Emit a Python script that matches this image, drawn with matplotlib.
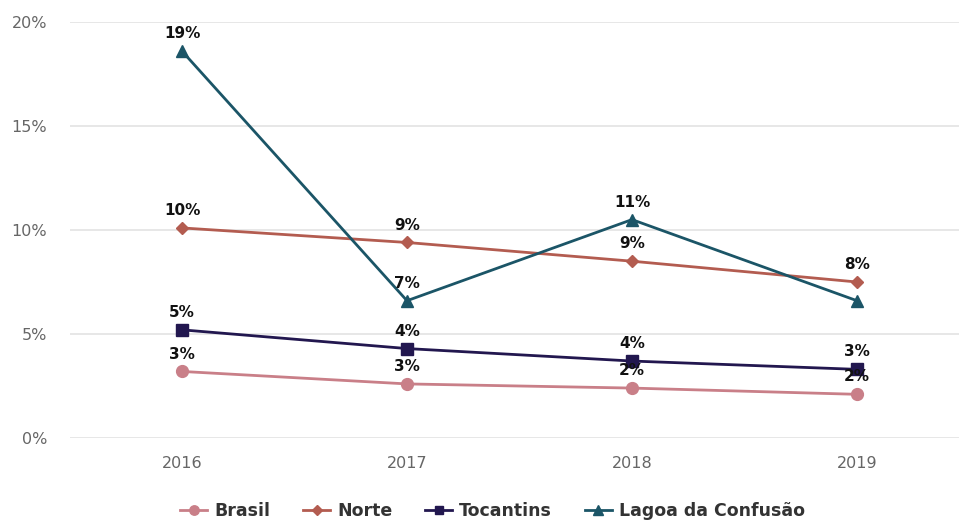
import matplotlib
matplotlib.use("Agg")
import matplotlib.pyplot as plt
from matplotlib.ticker import FuncFormatter

years = ["2016", "2017", "2018", "2019"]
brasil = [3.2, 2.6, 2.4, 2.1]
norte = [10.1, 9.4, 8.5, 7.5]
tocantins = [5.2, 4.3, 3.7, 3.3]
lagoa = [18.6, 6.6, 10.5, 6.6]
brasil_lbl = ["3%", "3%", "2%", "2%"]
norte_lbl = ["10%", "9%", "9%", "8%"]
tocantins_lbl = ["5%", "4%", "4%", "3%"]
lagoa_lbl = ["19%", "7%", "11%", None]
yticks = [0, 5, 10, 15, 20]

series = [
    ("Brasil", brasil, brasil_lbl, "#c97f88", "o", 8.5),
    ("Norte", norte, norte_lbl, "#b35c50", "D", 6),
    ("Tocantins", tocantins, tocantins_lbl, "#22174f", "s", 8),
    ("Lagoa da Confusão", lagoa, lagoa_lbl, "#1b5567", "^", 8.5),
]

fig = plt.figure(figsize=(9.59, 5.21), dpi=100)
ax = fig.add_axes([69.5 / 959, 83 / 521, 900 / 959, 416 / 521])
x = list(range(len(years)))
for name, vals, lbls, col, mk, ms in series:
    ax.plot(x, vals, color=col, marker=mk, markersize=ms, linewidth=2, label=name, zorder=3)
for name, vals, lbls, col, mk, ms in series:
    for xi, v, l in zip(x, vals, lbls):
        if l is None:
            continue
        ax.annotate(l, (xi, v), xytext=(0, 12.5), textcoords="offset points",
                    ha="center", va="center", fontsize=11, fontweight="bold",
                    color="#111111", zorder=5)

ax.set_xlim(-0.5, 3.5)
ax.set_ylim(0, 20)
ax.set_xticks(x)
ax.set_xticklabels(years)
ax.set_yticks(yticks)
ax.yaxis.set_major_formatter(FuncFormatter(lambda v, p: f"{v:.0f}%"))
ax.grid(axis="y", color="#e3e3e3", linewidth=1.2)
ax.set_axisbelow(True)
for s in ax.spines.values():
    s.set_visible(False)
ax.tick_params(axis="both", length=0, labelsize=11.5, labelcolor="#666666")
ax.tick_params(axis="x", pad=13)
ax.tick_params(axis="y", pad=16)

leg = fig.legend(loc="center", ncol=4, frameon=False,
                 prop={"weight": "bold", "size": 12.5}, handlelength=1.55, columnspacing=1.9,
                 handletextpad=0.4, markerscale=0.8)
leg.set_bbox_to_anchor((492.5 / 959, (521 - 511) / 521), transform=fig.transFigure)
for t in leg.get_texts():
    t.set_color("#333333")
fig.savefig("out.png", dpi=100)
